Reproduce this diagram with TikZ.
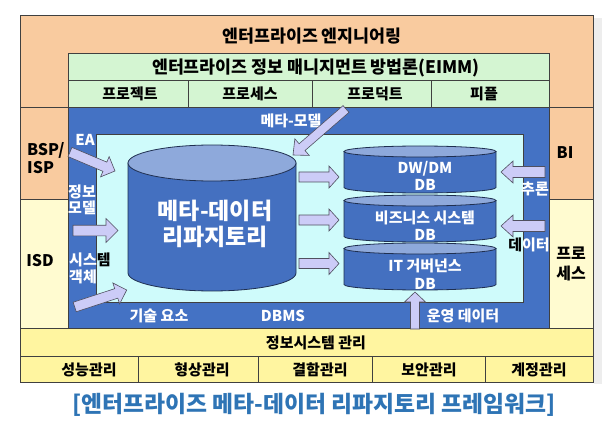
\documentclass[tikz,border=0pt]{standalone}
\usepackage{fontspec}
\setmainfont{Noto Sans CJK KR}
\usetikzlibrary{calc}
\definecolor{orangeF}{HTML}{F9CB9F}
\definecolor{greenF}{HTML}{D4F5D2}
\definecolor{blueF}{HTML}{4472C4}
\definecolor{cyanF}{HTML}{CFFBFB}
\definecolor{lyellowF}{HTML}{FFFBD0}
\definecolor{yellowF}{HTML}{FFF5A0}
\definecolor{cylTop}{HTML}{8EA9DB}
\definecolor{cylSide}{HTML}{4470C0}
\definecolor{cylLine}{HTML}{1F2F50}
\definecolor{arrowFill}{HTML}{CCCCF7}
\definecolor{arrowLine}{HTML}{505060}
\definecolor{lineC}{HTML}{404040}
\definecolor{capC}{HTML}{2E74B5}
\definecolor{shadowC}{HTML}{EDEDED}
\newcommand\cylinder[5]{% cx, top y, bottom y, rx, ry
  \filldraw[fill=cylSide, draw=cylLine, line width=0.8pt]
    (#1-#4,#2) -- (#1-#4,#3) arc[start angle=180, end angle=360, x radius=#4pt, y radius=#5pt]
    -- (#1+#4,#2) -- cycle;
  \filldraw[fill=cylTop, draw=cylLine, line width=0.8pt] (#1,#2) ellipse [x radius=#4pt, y radius=#5pt];}
\newcommand\blockarrow[5]{% from, to, shaft half, head half, head length
  \coordinate (ba-h) at ($(#2)!#5pt!(#1)$);
  \draw[barrowstyle] ($(#1)!#3pt!90:(#2)$) -- ($(ba-h)!#3pt!-90:(#1)$) -- ($(ba-h)!#4pt!-90:(#1)$)
    -- (#2) -- ($(ba-h)!#4pt!90:(#1)$) -- ($(ba-h)!#3pt!90:(#1)$) -- ($(#1)!#3pt!-90:(#2)$) -- cycle;}
\begin{document}
\begin{tikzpicture}[x=1pt,y=-1pt,
  box/.style={draw=lineC, line width=0.8pt},
  lbl/.style={font=\bfseries\fontsize{15}{18}\selectfont, inner sep=0pt},
  wlbl/.style={lbl, text=white},
  sidelbl/.style={font=\bfseries\fontsize{16}{19}\selectfont, inner sep=0pt},
  titlelbl/.style={font=\bfseries\fontsize{17.3}{20}\selectfont, inner sep=0pt},
  cyltext/.style={text=white, font=\bfseries\fontsize{15}{17.5}\selectfont, inner sep=0pt},
  barrowstyle/.style={draw=arrowLine, fill=arrowFill, line width=0.6pt, line join=miter}]
\useasboundingbox (0,0) rectangle (602,422);
\fill[white] (0,0) rectangle (602,422);
\fill[shadowC] (594,18) rectangle (602,384);
% frame
\filldraw[box, fill=orangeF] (20,15) rectangle (593,107);
\filldraw[box, fill=orangeF] (20,107) rectangle (68,199);
\filldraw[box, fill=lyellowF] (20,199) rectangle (68,328);
\filldraw[box, fill=orangeF] (549,107) rectangle (593,199);
\filldraw[box, fill=lyellowF] (549,199) rectangle (593,328);
% EIMM
\filldraw[box, fill=greenF] (68,53) rectangle (549,80);
\filldraw[box, fill=greenF] (68,80) rectangle (188,107);
\filldraw[box, fill=greenF] (188,80) rectangle (312,107);
\filldraw[box, fill=greenF] (312,80) rectangle (431,107);
\filldraw[box, fill=greenF] (431,80) rectangle (549,107);
% blue and cyan
\filldraw[box, fill=blueF] (68,107) rectangle (549,328);
\filldraw[box, fill=cyanF] (96,134) rectangle (523,302);
% bottom
\filldraw[box, fill=yellowF] (20,328) rectangle (593,356);
\filldraw[box, fill=yellowF] (20,356) rectangle (138,382);
\filldraw[box, fill=yellowF] (138,356) rectangle (258,382);
\filldraw[box, fill=yellowF] (258,356) rectangle (372,382);
\filldraw[box, fill=yellowF] (372,356) rectangle (485,382);
\filldraw[box, fill=yellowF] (485,356) rectangle (593,382);
% cylinders
\cylinder{212}{163}{273}{84}{18}
\cylinder{420}{151.5}{187.5}{76}{5.5}
\cylinder{420}{200.5}{236.5}{76}{5.5}
\cylinder{420}{248.5}{284.5}{76}{5.5}
% texts
\node[titlelbl] (ee) at (312,36.5) {엔터프라이즈 엔지니어링};
\node[titlelbl] (eimm) at (316,68) {엔터프라이즈 정보 매니지먼트 방법론(EIMM)};
\node[lbl] (proj) at (130,94) {프로젝트};
\node[lbl] (proc) at (250,94) {프로세스};
\node[lbl] (prod) at (375,94) {프로덕트};
\node[lbl] (peop) at (484,94) {피플};
\node[lbl] (ism) at (316,342.5) {정보시스템 관리};
\node[lbl] (m1) at (89,370) {성능관리};
\node[lbl] (m2) at (202,370) {형상관리};
\node[lbl] (m3) at (320,370) {결함관리};
\node[lbl] (m4) at (429,370) {보안관리};
\node[lbl] (m5) at (539,370) {계정관리};
\node[font=\bfseries\fontsize{22.8}{26}\selectfont, text=capC, inner sep=0pt] (cap) at (314,405) {[엔터프라이즈 메타-데이터 리파지토리 프레임워크]};
\node[sidelbl, anchor=west, align=left, font=\bfseries\fontsize{16}{18.5}\selectfont] (bsp) at (27,158) {BSP/\\ISP};
\node[sidelbl] (isd) at (40,261) {ISD};
\node[sidelbl] (bi) at (565,153) {BI};
\node[sidelbl, align=center, font=\bfseries\fontsize{16}{20}\selectfont] (prs) at (571,263.5) {프로\\세스};
\node[wlbl] (mm) at (291,121) {메타-모델};
\node[wlbl] (ea) at (85,140) {EA};
\node[wlbl, anchor=west, align=left, font=\bfseries\fontsize{15}{16.5}\selectfont] (im) at (68,200) {정보\\모델};
\node[wlbl, anchor=west, align=left, font=\bfseries\fontsize{15}{17}\selectfont] (so) at (69,268.5) {시스\textcolor{black}{템}\\객체};
\node[wlbl] (tech) at (159,315.5) {기술 요소};
\node[wlbl] (dbms) at (283,315.5) {DBMS};
\node[wlbl] (ops) at (463,316) {운영 데이터};
\node[wlbl] (inf) at (535,189.5) {추론};
\node[wlbl] (dat) at (529,245) {\textcolor{black}{데}이터};
\node[text=white, font=\bfseries\fontsize{23}{26}\selectfont, align=center, inner sep=0pt] (mdr) at (215,224) {메타-데이터\\리파지토리};
\node[cyltext, align=center] (dw) at (425,176) {DW/DM\\DB};
\node[cyltext, align=center] (bs) at (425,225.5) {비즈니스 시스템\\DB};
\node[cyltext, align=center] (itg) at (425,274) {IT 거버넌스\\DB};
% arrow endpoints
\coordinate (a1s) at (70,152); \coordinate (a1e) at (115,171);
\coordinate (a2s) at (73,230.5); \coordinate (a2e) at (118,230.5);
\coordinate (a3s) at (74.7,307); \coordinate (a3e) at (126.7,290);
\coordinate (a4s) at (346,109); \coordinate (a4e) at (293,155);
\coordinate (b1s) at (299,177); \coordinate (b1e) at (339,177);
\coordinate (b2s) at (299,220); \coordinate (b2e) at (339,220);
\coordinate (b3s) at (299,263.5); \coordinate (b3e) at (339,263.5);
\coordinate (c1s) at (545,172); \coordinate (c1e) at (501,172);
\coordinate (c2s) at (545,226); \coordinate (c2e) at (501,226);
\coordinate (d1s) at (415,329); \coordinate (d1e) at (415,292);
\blockarrow{a1s}{a1e}{5}{11}{11}
\blockarrow{a2s}{a2e}{5.3}{12}{12}
\blockarrow{a3s}{a3e}{5}{11}{11}
\blockarrow{a4s}{a4e}{4.5}{11}{12}
\blockarrow{b1s}{b1e}{5}{11}{10}
\blockarrow{b2s}{b2e}{5}{11}{10}
\blockarrow{b3s}{b3e}{5}{11}{10}
\blockarrow{c1s}{c1e}{5.5}{11}{12}
\blockarrow{c2s}{c2e}{5.5}{11}{12}
\blockarrow{d1s}{d1e}{4.5}{10.5}{10}
\end{tikzpicture}
\end{document}
